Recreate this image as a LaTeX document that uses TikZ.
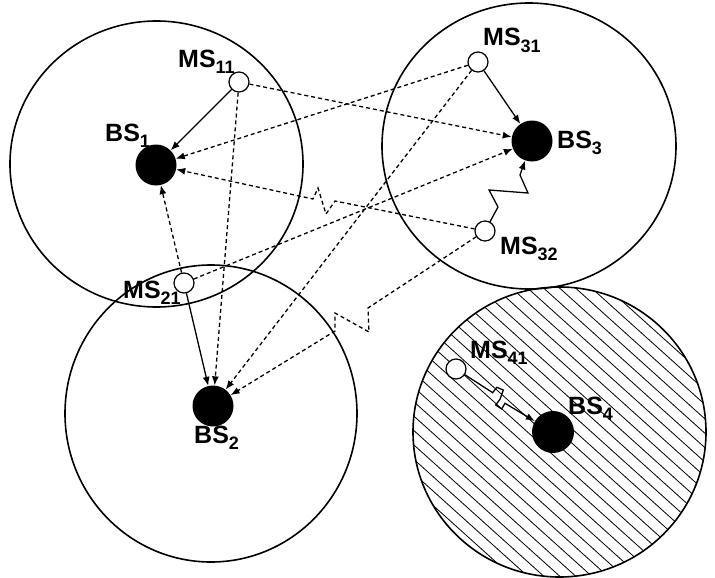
\documentclass[tikz,border=0pt]{standalone}
\usepackage{fontspec}
\setmainfont{Liberation Sans}
\usetikzlibrary{arrows.meta}
\newcommand{\lblsub}[2]{#1\raisebox{-6pt}{\fontsize{18}{18}\selectfont #2}}
\begin{document}
\begin{tikzpicture}[x=1pt,y=-1pt,
  cell/.style={line width=1.6pt},
  bs/.style={circle,fill=black,inner sep=0pt,minimum size=41pt},
  ms/.style={circle,draw,fill=white,line width=1.2pt,inner sep=0pt,minimum size=20pt},
  lbl/.style={anchor=base west,inner sep=0pt,font=\fontsize{25}{25}\selectfont\bfseries},
  solidlink/.style={line width=1.3pt,-{Latex[length=9pt,width=7pt]}},
  dashlink/.style={solidlink,dash pattern=on 4pt off 3pt},
  hatchline/.style={line width=0.8pt}]
\useasboundingbox (0,0) rectangle (715,578);
% cells
\draw[cell] (156.5,164) ellipse (146.5pt and 143pt);
\draw[cell] (529,146) ellipse (147pt and 143pt);
\draw[cell] (211,413.5) ellipse (146pt and 148.5pt);
\begin{scope}
  \clip (559.5,432) ellipse (146.5pt and 145pt);
  \foreach \k in {-22,...,22}
    \draw[hatchline] ({559.5+16*\k-200},252) -- ({559.5+16*\k+200},612);
\end{scope}
\draw[cell] (559.5,432) ellipse (146.5pt and 145pt);
% stations
\node[bs] (BS1) at (156,165) {};
\node[bs] (BS2) at (213,406) {};
\node[bs] (BS3) at (532,141) {};
\node[bs,minimum size=42pt] (BS4) at (553,432) {};
\node[ms] (MS11) at (239,82) {};
\node[ms] (MS21) at (184,283) {};
\node[ms] (MS31) at (478,62) {};
\node[ms] (MS32) at (485,231) {};
\node[ms] (MS41) at (456,369) {};
% labels
\node[lbl] (lMS11) at (178,67) {\lblsub{MS}{11}};
\node[lbl] (lBS1) at (105,141) {\lblsub{BS}{1}};
\node[lbl] (lMS31) at (483,46) {\lblsub{MS}{31}};
\node[lbl] (lBS3) at (557,148) {\lblsub{BS}{3}};
\node[lbl] (lMS21) at (123,298) {\lblsub{MS}{21}};
\node[lbl] (lBS2) at (194,443) {\lblsub{BS}{2}};
\node[lbl] (lMS32) at (500,254) {\lblsub{MS}{32}};
\node[lbl] (lMS41) at (470,358) {\lblsub{MS}{41}};
\node[lbl] (lBS4) at (568,414) {\lblsub{BS}{4}};
% zigzag points
\coordinate (a1) at (498,207);
\coordinate (a2) at (489,190);
\coordinate (a3) at (528,193);
\coordinate (a4) at (520,175);
\coordinate (b1) at (335,201);
\coordinate (b2) at (326,214);
\coordinate (b3) at (318,188);
\coordinate (b4) at (313,199);
\coordinate (c1) at (368,308);
\coordinate (c2) at (369,332);
\coordinate (c3) at (335,313);
\coordinate (c4) at (335,331);
\coordinate (d1) at (492.7,392.7);
\coordinate (d2) at (496.7,387.3);
\coordinate (d3) at (503.3,390);
\coordinate (d4) at (500,399.3);
\coordinate (d5) at (495.7,405);
\coordinate (d6) at (501.7,409);
\coordinate (d7) at (505,403.3);
% solid links
\draw[solidlink] (MS11) -- (BS1);
\draw[solidlink] (MS31) -- (BS3);
\draw[solidlink] (MS21) -- (BS2);
\draw[solidlink] (MS32) -- (a1) -- (a2) -- (a3) -- (a4) -- (BS3);
\draw[solidlink] (MS41) -- (d1) -- (d2) -- (d3) -- (d4) -- (d5) -- (d6) -- (d7) -- (BS4);
% dashed links
\draw[dashlink] (MS11) -- (BS3);
\draw[dashlink] (MS11) -- (BS2);
\draw[dashlink] (MS31) -- (BS1);
\draw[dashlink] (MS31) -- (BS2);
\draw[dashlink] (MS21) -- (BS1);
\draw[dashlink] (MS21) -- (BS3);
\draw[dashlink] (MS32) -- (b1) -- (b2) -- (b3) -- (b4) -- (BS1);
\draw[dashlink] (MS32) -- (c1) -- (c2) -- (c3) -- (c4) -- (BS2);
\end{tikzpicture}
\end{document}
